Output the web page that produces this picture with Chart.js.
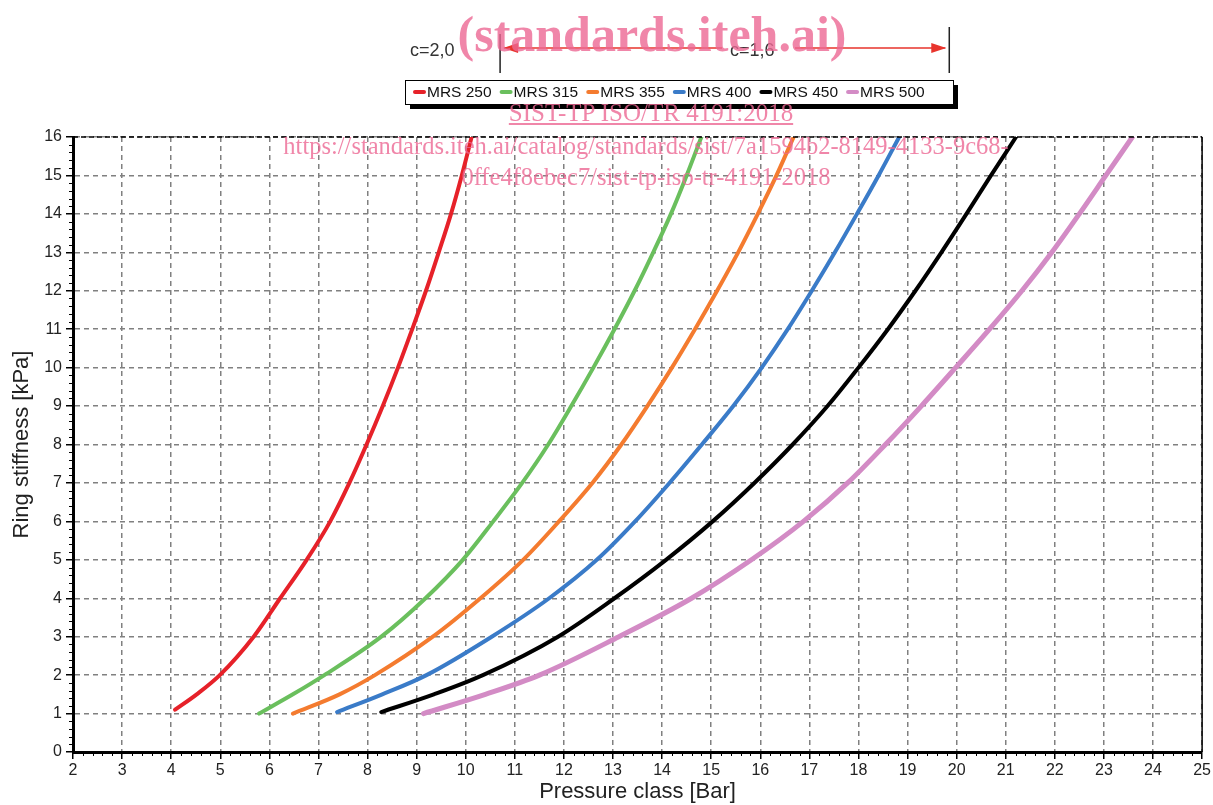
<!DOCTYPE html>
<html>
<head>
<meta charset="utf-8">
<script src="https://cdn.jsdelivr.net/npm/chart.js@4.4.0/dist/chart.umd.min.js"></script>
<style>
    html, body { margin: 0; padding: 0; background: #fff; }
    #wrap { position: relative; width: 1213px; height: 805px; overflow: hidden; }
    #chart { position: absolute; left: 0; top: 0; }
    .wm {
        position: absolute;
        transform: translateX(-50%);
        color: rgba(236, 104, 148, 0.8);
        font-family: "Liberation Serif", "DejaVu Serif", serif;
        white-space: nowrap;
        line-height: 1;
        pointer-events: none;
    }
</style>
</head>
<body>
<div id="wrap">
    <canvas id="chart" width="1213" height="805"></canvas>
    <div class="wm" style="left:652px; top:9px; font-size:50px; font-weight:bold;">(standards.iteh.ai)</div>
    <div class="wm" style="left:651px; top:100px; font-size:25px; text-decoration:underline;">SIST-TP ISO/TR 4191:2018</div>
    <div class="wm" style="left:646px; top:134px; font-size:24.5px;">https://standards.iteh.ai/catalog/standards/sist/7a1594b2-8149-4133-9c68-</div>
    <div class="wm" style="left:646px; top:165px; font-size:24.5px;">0ffe4f8ebec7/sist-tp-iso-tr-4191-2018</div>
</div>

<script>
// axis ranges
const xMin = 2, xMax = 25;
const yMin = 0, yMax = 16;

const seriesNames = ['MRS 250', 'MRS 315', 'MRS 355', 'MRS 400', 'MRS 450', 'MRS 500'];
const seriesColors = ['#e62129', '#6abf5d', '#f47b2f', '#3a7bc8', '#000000', '#d38bc5'];
const seriesWidths = [4, 4, 4, 4, 4, 5];

// ring stiffness [kPa] (y) and pressure class [Bar] (x)
const sRed    = [1.1, 1.5, 2, 3, 4, 5, 6, 7, 8, 9, 10, 11, 12, 13, 14, 15, 16];
const pRed    = [4.08, 4.52, 4.99, 5.68, 6.22, 6.76, 7.24, 7.63, 7.98, 8.31, 8.62, 8.91, 9.19, 9.45, 9.70, 9.92, 10.12];
const sGreen  = [1.0, 1.5, 2, 3, 4, 5, 6, 7, 8, 9, 10, 11, 12, 13, 14, 15, 16];
const pGreen  = [5.79, 6.48, 7.12, 8.28, 9.18, 9.94, 10.56, 11.15, 11.68, 12.15, 12.60, 13.03, 13.44, 13.82, 14.18, 14.50, 14.80];
const sOrange = [1.0, 1.5, 2, 3, 4, 5, 6, 7, 8, 9, 10, 11, 12, 13, 14, 15, 16];
const pOrange = [6.48, 7.43, 8.15, 9.33, 10.30, 11.17, 11.90, 12.58, 13.17, 13.70, 14.20, 14.67, 15.12, 15.55, 15.95, 16.33, 16.68];
const sBlue   = [1.04, 1.5, 2, 3, 4, 5, 6, 7, 8, 9, 10, 11, 12, 13, 14, 15, 16];
const pBlue   = [7.38, 8.30, 9.20, 10.53, 11.70, 12.67, 13.45, 14.15, 14.81, 15.45, 16.03, 16.56, 17.05, 17.52, 17.97, 18.41, 18.83];
const sBlack  = [1.04, 1.5, 2, 3, 4, 5, 6, 7, 8, 9, 10, 11, 12, 13, 14, 15, 16];
const pBlack  = [8.28, 9.35, 10.35, 11.88, 13.03, 14.08, 15.03, 15.88, 16.66, 17.37, 18.00, 18.60, 19.16, 19.69, 20.20, 20.70, 21.21];
const sPink   = [1.0, 1.5, 2, 3, 4, 5, 6, 7, 8, 9, 10, 11, 12, 13, 14, 15, 16];
const pPink   = [9.14, 10.40, 11.50, 13.12, 14.60, 15.82, 16.88, 17.78, 18.55, 19.28, 19.98, 20.67, 21.33, 21.94, 22.50, 23.04, 23.58];

const seriesX = [pRed, pGreen, pOrange, pBlue, pBlack, pPink];
const seriesY = [sRed, sGreen, sOrange, sBlue, sBlack, sPink];

// c boundaries shown above the chart (pressure class)
const cBoundLeft = 10.7;
const cBoundRight = 19.85;

const FONT = '"Liberation Sans", Arial, sans-serif';

const decorPlugin = {
    id: 'decor',
    afterDraw(chart) {
        const { ctx, chartArea: a, scales: { x, y } } = chart;
        ctx.save();

        // minor ticks
        ctx.strokeStyle = '#000';
        ctx.lineWidth = 1;
        ctx.beginPath();
        for (let i = xMin * 5; i <= xMax * 5; i++) {
            if (i % 5 === 0) continue;
            const px = Math.round(x.getPixelForValue(i / 5)) + 0.5;
            ctx.moveTo(px, a.bottom + 1);
            ctx.lineTo(px, a.bottom + 4);
        }
        for (let i = yMin * 5; i <= yMax * 5; i++) {
            if (i % 5 === 0) continue;
            const py = Math.round(y.getPixelForValue(i / 5)) + 0.5;
            ctx.moveTo(a.left - 1, py);
            ctx.lineTo(a.left - 4, py);
        }
        ctx.stroke();

        // top (dashed) and right frame
        ctx.lineWidth = 1.5;
        ctx.setLineDash([5, 3]);
        ctx.beginPath();
        ctx.moveTo(a.left, a.top);
        ctx.lineTo(a.right, a.top);
        ctx.stroke();
        ctx.setLineDash([]);
        ctx.beginPath();
        ctx.moveTo(a.right, a.top);
        ctx.lineTo(a.right, a.bottom);
        ctx.stroke();

        // legend box with shadow
        const bx = 405, by = 80, bw = 548, bh = 24;
        ctx.fillStyle = '#000';
        ctx.fillRect(bx + 5, by + 5, bw, bh);
        ctx.fillStyle = '#fff';
        ctx.fillRect(bx, by, bw, bh);
        ctx.strokeStyle = '#000';
        ctx.lineWidth = 1;
        ctx.strokeRect(bx + 0.5, by + 0.5, bw, bh);

        ctx.font = '15.5px ' + FONT;
        ctx.textBaseline = 'middle';
        ctx.textAlign = 'left';
        let lx = bx + 8;
        chart.data.datasets.forEach(ds => {
            ctx.strokeStyle = ds.borderColor;
            ctx.lineWidth = 4;
            ctx.lineCap = 'round';
            ctx.beginPath();
            ctx.moveTo(lx + 2, by + bh / 2);
            ctx.lineTo(lx + 11, by + bh / 2);
            ctx.stroke();
            ctx.fillStyle = '#111';
            ctx.fillText(ds.label, lx + 14, by + bh / 2 + 1);
            lx += 14 + ctx.measureText(ds.label).width + 8;
        });

        // c annotations
        const xl = x.getPixelForValue(cBoundLeft);
        const xr = x.getPixelForValue(cBoundRight);
        ctx.strokeStyle = '#222';
        ctx.lineWidth = 1.5;
        ctx.lineCap = 'butt';
        ctx.beginPath();
        ctx.moveTo(xl, 34); ctx.lineTo(xl, 73);
        ctx.moveTo(xr, 27); ctx.lineTo(xr, 73);
        ctx.stroke();

        ctx.font = '18px ' + FONT;
        ctx.fillStyle = '#333';
        ctx.fillText('c=2,0', 410, 51);
        ctx.fillText('c=1,6', 730, 51);

        const ay = 48;
        ctx.strokeStyle = '#e8342c';
        ctx.fillStyle = '#e8342c';
        ctx.lineWidth = 1.5;
        ctx.beginPath();
        ctx.moveTo(xl + 4, ay); ctx.lineTo(722, ay);
        ctx.moveTo(795, ay); ctx.lineTo(xr - 4, ay);
        ctx.stroke();
        ctx.beginPath();
        ctx.moveTo(xl + 3, ay); ctx.lineTo(xl + 18, ay - 5); ctx.lineTo(xl + 18, ay + 5); ctx.closePath();
        ctx.moveTo(xr - 3, ay); ctx.lineTo(xr - 18, ay - 5); ctx.lineTo(xr - 18, ay + 5); ctx.closePath();
        ctx.fill();

        ctx.restore();
    }
};

const datasets = seriesNames.map((name, i) => ({
    label: name,
    data: seriesX[i].map((px, j) => ({ x: px, y: seriesY[i][j] })),
    borderColor: seriesColors[i],
    backgroundColor: seriesColors[i],
    borderWidth: seriesWidths[i],
    showLine: true,
    pointRadius: 0,
    cubicInterpolationMode: 'monotone',
    borderCapStyle: 'round',
}));

new Chart(document.getElementById('chart'), {
    type: 'scatter',
    data: { datasets },
    options: {
        responsive: false,
        animation: false,
        devicePixelRatio: 1,
        layout: { padding: { left: 0, top: 137, right: 10, bottom: 0 } },
        plugins: {
            legend: { display: false },
            tooltip: { enabled: false },
        },
        scales: {
            x: {
                type: 'linear',
                min: xMin,
                max: xMax,
                ticks: { stepSize: 1, color: '#222', font: { family: FONT, size: 16 }, padding: 2, maxRotation: 0, autoSkip: false },
                grid: { color: '#808080', lineWidth: 1.5, tickLength: 7, tickColor: '#000', tickWidth: 1.5 },
                border: { color: '#000', width: 3, dash: [5, 4] },
                title: { display: true, text: 'Pressure class [Bar]', color: '#222', font: { family: FONT, size: 22 }, padding: { top: -3, bottom: 0 } },
                afterFit: s => { s.height = 53; },
            },
            y: {
                type: 'linear',
                min: yMin,
                max: yMax,
                ticks: { stepSize: 1, color: '#222', font: { family: FONT, size: 16 }, padding: 4, autoSkip: false },
                grid: { color: '#808080', lineWidth: 1.5, tickLength: 7, tickColor: '#000', tickWidth: 1.5 },
                border: { color: '#000', width: 3, dash: [5, 4] },
                title: { display: true, text: 'Ring stiffness [kPa]', color: '#222', font: { family: FONT, size: 22 }, padding: { top: 9, bottom: 0 } },
                afterFit: s => { s.width = 73; },
            },
        },
    },
    plugins: [decorPlugin],
});
</script>
</body>
</html>
